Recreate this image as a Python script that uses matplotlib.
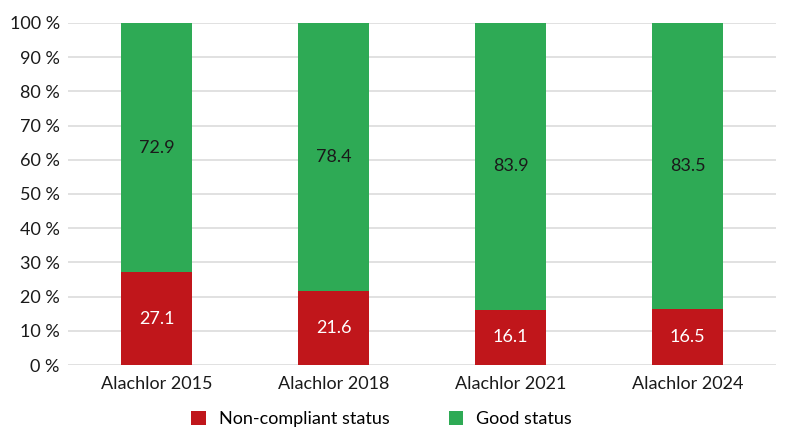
import matplotlib
matplotlib.use("Agg")
import matplotlib.pyplot as plt
import numpy as np

categories = ["Alachlor 2015", "Alachlor 2018", "Alachlor 2021", "Alachlor 2024"]
non_compliant = [27.1, 21.6, 16.1, 16.5]
good = [72.9, 78.4, 83.9, 83.5]

RED = "#c0161b"
GREEN = "#2eaa55"

plt.rcParams["font.family"] = ["Lato", "DejaVu Sans"]

fig = plt.figure(figsize=(8, 4.42), dpi=100)
ax = fig.add_axes([68 / 800, 1 - 365 / 442, (776 - 68) / 800, 342 / 442])

x = np.arange(len(categories))
b1 = ax.bar(x, non_compliant, width=0.4, color=RED, label="Non-compliant status", zorder=3)
b2 = ax.bar(x, good, width=0.4, bottom=non_compliant, color=GREEN, label="Good status", zorder=3)

for i in range(len(categories)):
    ax.text(x[i], non_compliant[i] / 2, f"{non_compliant[i]:.1f}", ha="center", va="center",
            color="white", fontsize=13, zorder=4)
    ax.text(x[i], non_compliant[i] + good[i] / 2, f"{good[i]:.1f}", ha="center", va="center",
            color="#1a1a1a", fontsize=13, zorder=4)

ax.set_xlim(-0.5, len(categories) - 0.5)
ax.set_ylim(0, 100)
ax.set_yticks(range(0, 101, 10))
ax.set_yticklabels([f"{v} %" for v in range(0, 101, 10)], fontsize=13, color="#1a1a1a")
ax.set_xticks(x)
ax.set_xticklabels(categories, fontsize=13, color="#1a1a1a")
ax.yaxis.grid(True, color="#dcdcdc", linewidth=1.2, zorder=0)
ax.tick_params(length=0, pad=6)
ax.tick_params(axis="x", pad=8)
for s in ax.spines.values():
    s.set_visible(False)

fig.legend(handles=[b1, b2], loc="center", bbox_to_anchor=(0.477, 1 - 419 / 442), ncol=2,
           frameon=False, fontsize=13, handlelength=0.8, handleheight=0.8,
           columnspacing=3.3, handletextpad=0.7)

fig.savefig("out.png", dpi=100)
